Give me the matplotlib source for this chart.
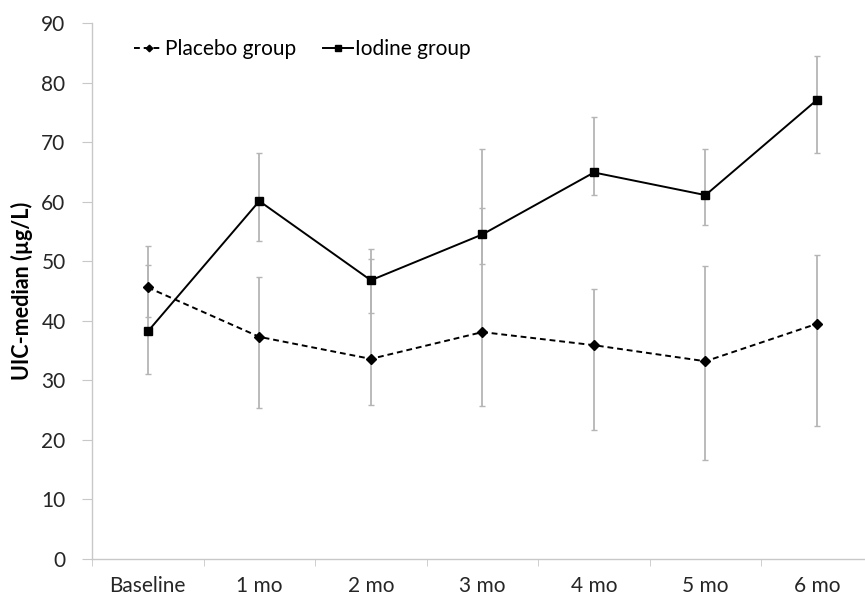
import matplotlib.pyplot as plt
import numpy as np

plt.rcParams['font.family'] = ['Lato', 'DejaVu Sans']

# data
timepoints = ['Baseline', '1 mo', '2 mo', '3 mo', '4 mo', '5 mo', '6 mo']
placebo = [45.6, 37.3, 33.6, 38.1, 35.9, 33.2, 39.5]
placebo_low = [40.6, 25.4, 25.9, 25.7, 21.7, 16.6, 22.3]
placebo_high = [52.6, 47.3, 50.4, 59.0, 45.4, 49.2, 51.0]
iodine = [38.2, 60.1, 46.8, 54.5, 64.9, 61.1, 77.1]
iodine_low = [31.0, 53.4, 41.3, 49.6, 61.1, 56.1, 68.2]
iodine_high = [49.3, 68.2, 52.0, 68.8, 74.3, 68.8, 84.5]

x = np.arange(len(timepoints))
err_color = '#b5b5b5'

fig = plt.figure(figsize=(8.65, 5.99), dpi=100)
ax = fig.add_axes([92 / 865, 40 / 599, 1 - 92 / 865, (559 - 23) / 599])

p_err = [np.array(placebo) - np.array(placebo_low), np.array(placebo_high) - np.array(placebo)]
i_err = [np.array(iodine) - np.array(iodine_low), np.array(iodine_high) - np.array(iodine)]
ax.errorbar(x, placebo, yerr=p_err, fmt='none', ecolor=err_color, elinewidth=1.3, capsize=2.5, capthick=1, zorder=1)
ax.errorbar(x, iodine, yerr=i_err, fmt='none', ecolor=err_color, elinewidth=1.3, capsize=2.5, capthick=1, zorder=1)

ax.plot(x, placebo, color='black', linestyle=(0, (3, 2)), linewidth=1.4, marker='D', markersize=4.8,
        label='Placebo group', zorder=3)
ax.plot(x, iodine, color='black', linestyle='-', linewidth=1.4, marker='s', markersize=5.8,
        label='Iodine group', zorder=3)

ax.set_xlim(-0.5, 6.43)
ax.set_ylim(0, 90)
ax.set_yticks(np.arange(0, 91, 10))
ax.set_xticks(x)
ax.set_xticklabels(timepoints)
ax.set_xticks(np.arange(-0.5, 6.5, 1), minor=True)
ax.tick_params(axis='x', which='major', length=0, pad=12, labelsize=15, colors='#262626')
ax.tick_params(axis='x', which='minor', length=5, color='#c8c8c8')
ax.tick_params(axis='y', length=7, color='#c8c8c8', pad=12, labelsize=15, labelcolor='#262626')

for side in ['top', 'right']:
    ax.spines[side].set_visible(False)
for side in ['left', 'bottom']:
    ax.spines[side].set_color('#c8c8c8')
    ax.spines[side].set_linewidth(1)

ax.set_ylabel('UIC-median (µg/L)', fontsize=15.5, fontweight='bold', labelpad=6)

ax.legend(loc='upper left', bbox_to_anchor=(0.03, 1.005), ncol=2, frameon=False, fontsize=15,
          handlelength=1.4, handletextpad=0.1, columnspacing=1.3, markerscale=0.7)

plt.savefig('out.png', dpi=100)
